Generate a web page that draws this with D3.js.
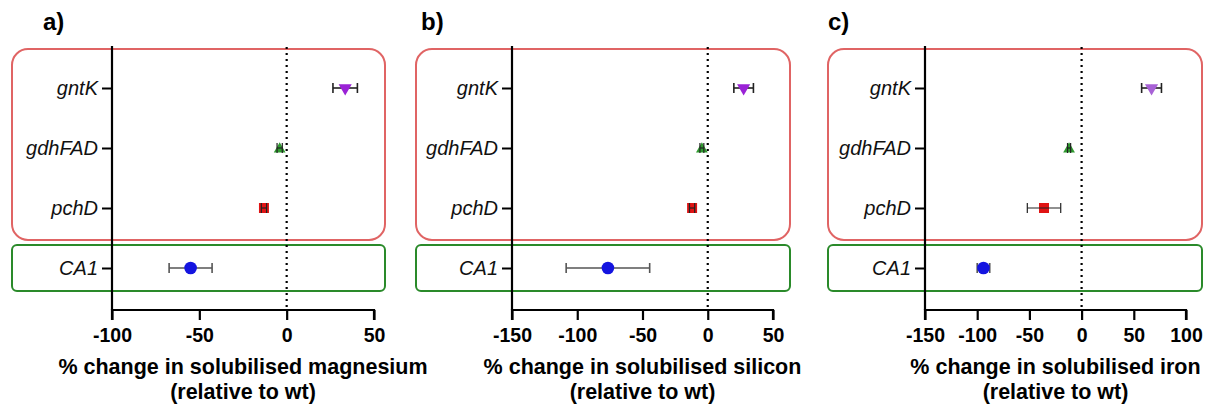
<!DOCTYPE html>
<html>
<head>
<meta charset="utf-8">
<script src="https://cdn.jsdelivr.net/npm/d3@7"></script>
<style>
  html, body { margin: 0; padding: 0; background: #fff; }
  svg { display: block; font-family: "Liberation Sans", Arial, sans-serif; }
</style>
</head>
<body>
<svg id="chart" width="1210" height="407"></svg>
<script>
// ---- data ----
const categories = ["gntK", "gdhFAD", "pchD", "CA1"];

const magnesiumMean = [33.5, -4, -13, -55];
const magnesiumErr  = [7, 1.5, 1.5, 12.3];
const siliconMean   = [27.5, -4.5, -12, -76.5];
const siliconErr    = [7.5, 1.5, 2, 32];
const ironMean      = [67, -12, -36, -94];
const ironErr       = [9.5, 1.5, 16, 6];

const magnesiumTicks = [-100, -50, 0, 50];
const siliconTicks   = [-150, -100, -50, 0, 50];
const ironTicks      = [-150, -100, -50, 0, 50, 100];

const panelLabels = ["a)", "b)", "c)"];
const titleLine1 = ["% change in solubilised magnesium", "% change in solubilised silicon", "% change in solubilised iron"];
const titleLine2 = "(relative to wt)";

// ---- layout / style ----
const panels = [
  { mean: magnesiumMean, err: magnesiumErr, ticks: magnesiumTicks, domain: [-100, 50],
    x0: 112, x1: 374, boxL: 12, boxR: 385, labelX: 43, gntColor: "#9a22d6" },
  { mean: siliconMean, err: siliconErr, ticks: siliconTicks, domain: [-150, 50],
    x0: 512, x1: 773, boxL: 416, boxR: 790, labelX: 421, gntColor: "#9a22d6" },
  { mean: ironMean, err: ironErr, ticks: ironTicks, domain: [-150, 100],
    x0: 925, x1: 1186, boxL: 828, boxR: 1202, labelX: 828, gntColor: "#a862d6" }
];
const yTop = 46, yBot = 310;
const FONT = "'Liberation Sans', Arial, sans-serif";

const svg = d3.select("#chart");

panels.forEach((p, pi) => {
  const x = d3.scaleLinear().domain(p.domain).range([p.x0, p.x1]);
  const y = d3.scalePoint().domain(categories).range([yTop, yBot]).padding(0.7);
  const g = svg.append("g");

  // group boxes
  g.append("rect")
    .attr("x", p.boxL).attr("y", y("gntK") - 39)
    .attr("width", p.boxR - p.boxL).attr("height", (y("pchD") + 32) - (y("gntK") - 39))
    .attr("rx", 16).attr("ry", 16)
    .attr("fill", "none").attr("stroke", "#e06464").attr("stroke-width", 2);
  g.append("rect")
    .attr("x", p.boxL).attr("y", y("CA1") - 23)
    .attr("width", p.boxR - p.boxL).attr("height", 46)
    .attr("rx", 5).attr("ry", 5)
    .attr("fill", "none").attr("stroke", "#2a8a2a").attr("stroke-width", 2);

  // dotted zero line
  g.append("line")
    .attr("x1", x(0)).attr("x2", x(0)).attr("y1", yTop + 1).attr("y2", yBot)
    .attr("stroke", "#000").attr("stroke-width", 2.2).attr("stroke-dasharray", "2,4");

  // x axis
  const xAxis = d3.axisBottom(x).tickValues(p.ticks).tickSize(10).tickPadding(8)
    .tickFormat(d => String(d));
  const xg = g.append("g").attr("transform", `translate(0,${yBot})`).call(xAxis);
  xg.select(".domain").attr("stroke", "#000").attr("stroke-width", 2.2)
    .attr("d", `M${p.x0},10V0H${p.x1}V10`);
  xg.selectAll(".tick line").attr("stroke", "#000").attr("stroke-width", 2.2);
  xg.selectAll(".tick text").attr("fill", "#000")
    .style("font-size", "19.5px").style("font-weight", "bold").style("font-family", FONT);

  // y axis
  const yAxis = d3.axisLeft(y).tickSize(10).tickPadding(4);
  const yg = g.append("g").attr("transform", `translate(${p.x0},0)`).call(yAxis);
  yg.select(".domain").attr("stroke", "#000").attr("stroke-width", 2.2)
    .attr("d", `M0,${yTop}V${yBot}`);
  yg.selectAll(".tick line").attr("stroke", "#000").attr("stroke-width", 2);
  yg.selectAll(".tick text").attr("fill", "#111")
    .style("font-size", "20px").style("font-style", "italic").style("font-family", FONT);

  const rows = categories.map((c, i) => ({ c, m: p.mean[i], e: p.err[i] }));

  const drawErr = (r, w) => {
    const col = r.c === "CA1" ? "#555" : "#222";
    const cy = y(r.c);
    g.append("line").attr("x1", x(r.m - r.e)).attr("x2", x(r.m + r.e))
      .attr("y1", cy).attr("y2", cy).attr("stroke", col).attr("stroke-width", w);
    [r.m - r.e, r.m + r.e].forEach(v => {
      g.append("line").attr("x1", x(v)).attr("x2", x(v))
        .attr("y1", cy - 5).attr("y2", cy + 5).attr("stroke", col).attr("stroke-width", w);
    });
  };

  const sym = {
    gntK:   { type: d3.symbolTriangle, size: 75, color: p.gntColor, rot: 180, errOnTop: false },
    gdhFAD: { type: d3.symbolTriangle, size: 60, color: "#2f9a2f", rot: 0, errOnTop: true },
    pchD:   { type: d3.symbolSquare,   size: 100, color: "#e01414", rot: 0, errOnTop: true },
    CA1:    { type: d3.symbolCircle,   size: 125, color: "#1414e0", rot: 0, errOnTop: false }
  };
  rows.forEach(r => {
    const s = sym[r.c];
    if (!s.errOnTop) drawErr(r, 1.6);
    g.append("path")
      .attr("d", d3.symbol().type(s.type).size(s.size)())
      .attr("transform", `translate(${x(r.m)},${y(r.c) + (r.c === "gdhFAD" ? 1 : 0)}) rotate(${s.rot})`)
      .attr("fill", s.color);
    if (s.errOnTop) drawErr(r, 1.2);
  });

  // titles
  const cx = (p.x0 + p.x1) / 2;
  g.append("text").attr("x", cx).attr("y", 373.5).attr("text-anchor", "middle")
    .style("font-size", "21.5px").style("font-weight", "bold").text(titleLine1[pi]);
  g.append("text").attr("x", cx).attr("y", 398.5).attr("text-anchor", "middle")
    .style("font-size", "21.5px").style("font-weight", "bold").text(titleLine2);

  // panel label
  g.append("text").attr("x", p.labelX).attr("y", 30)
    .style("font-size", "24px").style("font-weight", "bold").text(panelLabels[pi]);
});
</script>
</body>
</html>
